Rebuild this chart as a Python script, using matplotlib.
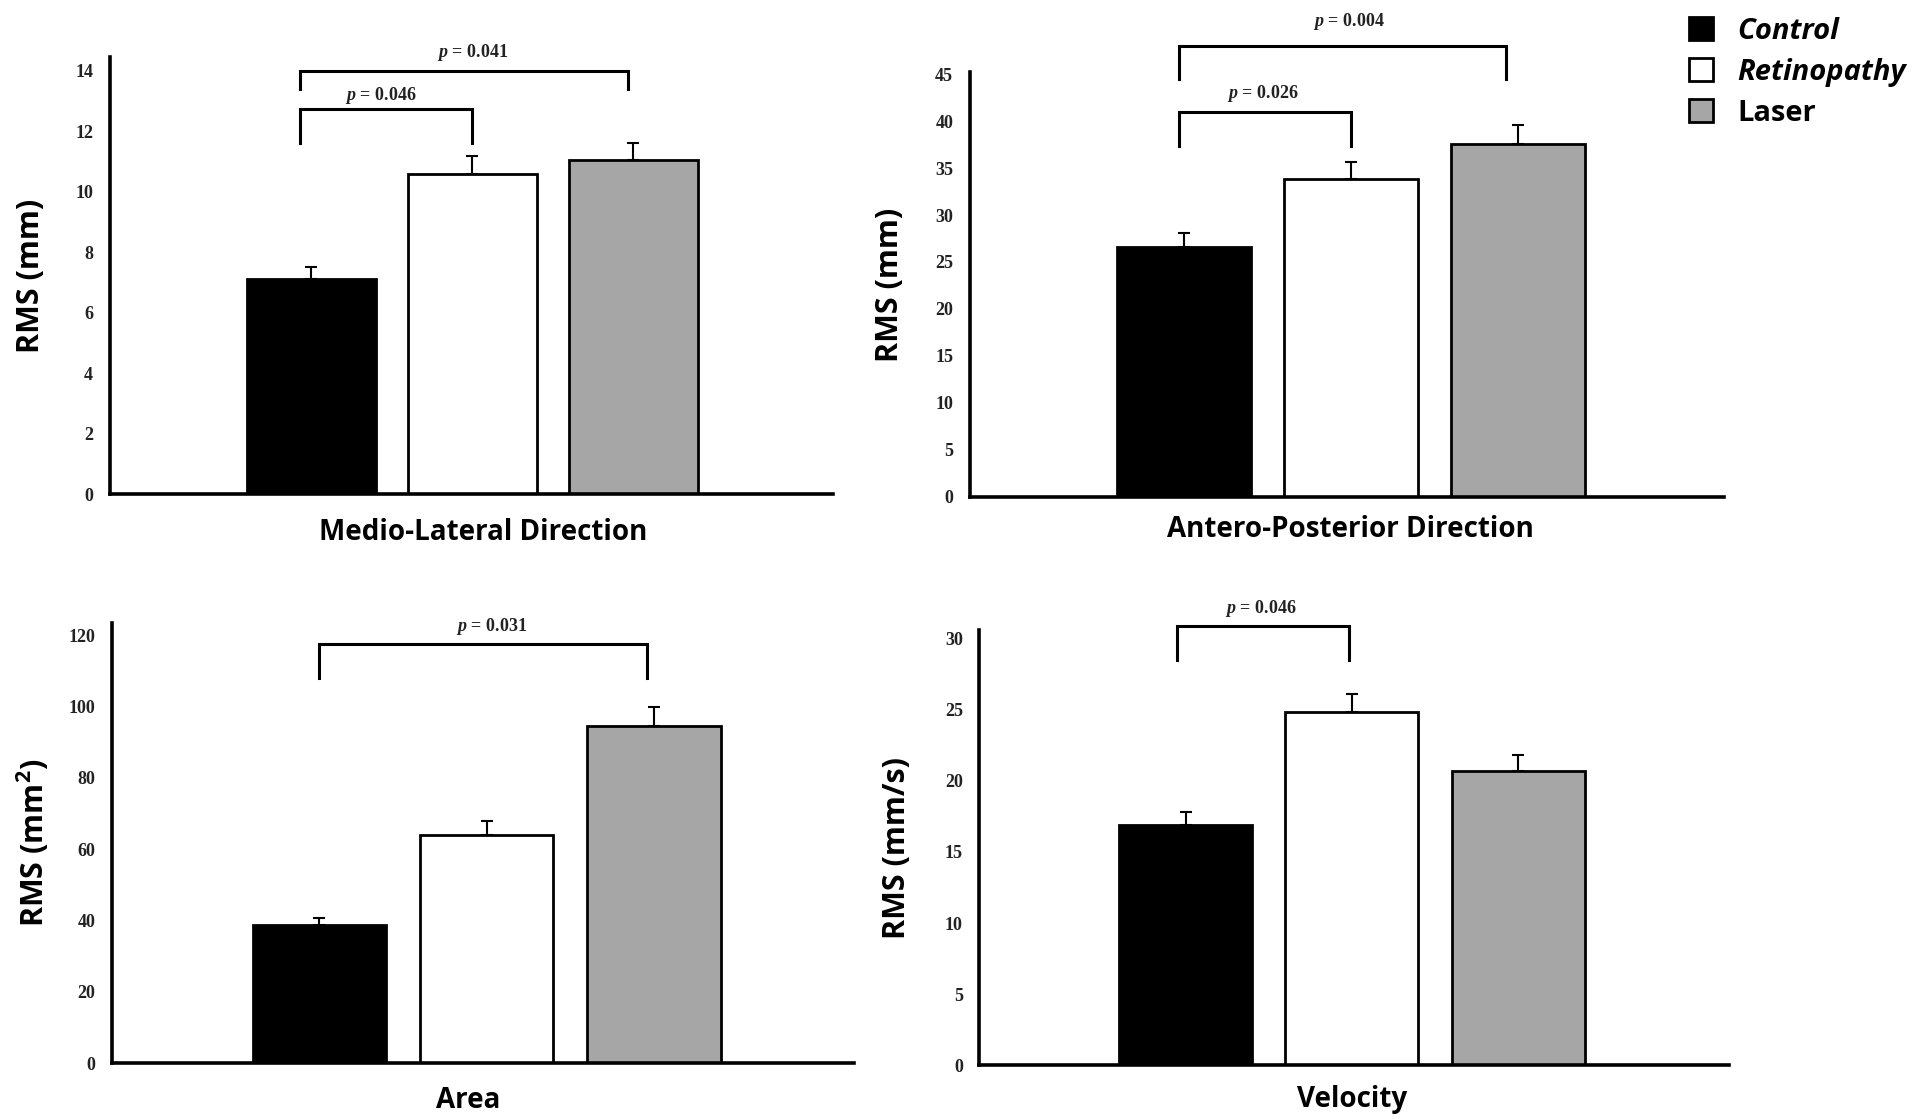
import numpy as np
import matplotlib.pyplot as plt

plt.rcParams['mathtext.fontset'] = 'custom'
plt.rcParams['mathtext.it'] = 'Liberation Serif:italic:bold'
plt.rcParams['mathtext.rm'] = 'Liberation Serif:bold'

# ---- data ----
groups = ["Control", "Retinopathy", "Laser"]
colors = ["black", "white", "#a6a6a6"]

ml_mean = [7.1, 10.6, 11.05]
ml_err = [0.4, 0.6, 0.55]

ap_mean = [26.6, 33.8, 37.6]
ap_err = [1.5, 1.8, 2.0]

area_mean = [38.7, 64.1, 94.6]
area_err = [2.1, 3.8, 5.2]

vel_mean = [16.9, 24.85, 20.7]
vel_err = [0.9, 1.25, 1.1]

# brackets: (from bar, to bar, label)
ml_pairs = [(0, 1, "0.046"), (0, 2, "0.041")]
ap_pairs = [(0, 1, "0.026"), (0, 2, "0.004")]
area_pairs = [(0, 2, "0.031")]
vel_pairs = [(0, 1, "0.046")]

# ---- layout per panel ----
panels = [
    dict(rect=[0.0574, 0.5585, 0.378, 0.3903], mean=ml_mean, err=ml_err, pairs=ml_pairs,
         ytop=14.45, ticks=np.arange(0, 15, 2), xlim=(-1.25, 3.24),
         ylabel="RMS (mm)", xlabel="Medio-Lateral Direction", ylab_x=-0.088, xlab=(0.516, -0.087),
         br=[(-0.07, 1.0, 12.75, 11.6, 0.43, 13.2), (-0.07, 1.97, 14.0, 13.4, 1.0, 14.6)]),
    dict(rect=[0.507, 0.5563, 0.394, 0.379], mean=ap_mean, err=ap_err, pairs=ap_pairs,
         ytop=45.2, ticks=np.arange(0, 46, 5), xlim=(-1.28, 3.23),
         ylabel="RMS (mm)", xlabel="Antero-Posterior Direction", ylab_x=-0.086, xlab=(0.505, -0.078),
         br=[(-0.03, 1.0, 41.0, 37.4, 0.47, 43.0), (-0.03, 1.93, 48.0, 44.5, 0.99, 50.6)]),
    dict(rect=[0.0586, 0.050, 0.388, 0.393], mean=area_mean, err=area_err, pairs=area_pairs,
         ytop=123.4, ticks=np.arange(0, 121, 20), xlim=(-1.24, 3.2),
         ylabel="RMS (mm$\\mathregular{^2}$)", xlabel="Area", ylab_x=-0.082, xlab=(0.480, -0.085),
         br=[(0.0, 1.96, 117.7, 108.0, 1.03, 122.6)]),
    dict(rect=[0.512, 0.048, 0.392, 0.389], mean=vel_mean, err=vel_err, pairs=vel_pairs,
         ytop=30.6, ticks=np.arange(0, 31, 5), xlim=(-1.24, 3.27),
         ylabel="RMS (mm/s)", xlabel="Velocity", ylab_x=-0.09, xlab=(0.497, -0.078),
         br=[(-0.05, 0.98, 30.9, 28.5, 0.45, 32.1)]),
]

fig = plt.figure(figsize=(19.13, 11.19), dpi=100)

legend_bars = None
for k, p in enumerate(panels):
    ax = fig.add_axes(p["rect"])
    x = np.arange(len(groups))
    bars = ax.bar(x, p["mean"], width=0.8, color=colors, edgecolor="black",
                  linewidth=2, zorder=2, label=groups)
    ax.errorbar(x, p["mean"], yerr=[np.zeros(len(x)), p["err"]], fmt="none",
                ecolor="black", elinewidth=1.5, capsize=4, capthick=1.5, zorder=3)
    if k == 1:
        legend_bars = bars

    ax.set_xlim(*p["xlim"])
    ax.set_ylim(0, p["ytop"])
    ax.set_xticks([])
    ax.set_yticks(p["ticks"])
    ax.tick_params(axis="y", length=0, pad=12, labelsize=13, labelcolor="#222222")
    for lab in ax.get_yticklabels():
        lab.set_fontfamily("Liberation Serif")
        lab.set_fontweight("bold")
    for s in ["top", "right"]:
        ax.spines[s].set_visible(False)
    for s in ["left", "bottom"]:
        ax.spines[s].set_linewidth(2.6)
        ax.spines[s].set_zorder(4)

    ax.set_ylabel(p["ylabel"], fontfamily="Open Sans", fontweight="bold", fontsize=22)
    ax.yaxis.set_label_coords(p["ylab_x"], 0.5)
    ax.text(p["xlab"][0], p["xlab"][1], p["xlabel"], transform=ax.transAxes,
            ha="center", va="center", fontfamily="Open Sans", fontweight="bold", fontsize=20)

    # significance brackets
    for (i, j, txt), (dx1, x2, ytop, yleg, tx, ty) in zip(p["pairs"], p["br"]):
        x1 = i + dx1
        ax.plot([x1, x1, x2, x2], [yleg, ytop, ytop, yleg], color="black",
                lw=2.2, clip_on=False, solid_joinstyle="miter")
        ax.text(tx, ty, "$\\mathit{p}$ = " + txt, ha="center", va="center",
                fontfamily="Liberation Serif", fontweight="bold", fontsize=13,
                color="#222222", clip_on=False)

leg = fig.legend(legend_bars, groups, loc="upper left", bbox_to_anchor=(0.8831, 0.985),
                 frameon=False, handlelength=0.8, handleheight=0.8, handletextpad=0.84,
                 borderaxespad=0, borderpad=0, labelspacing=0.41,
                 prop=dict(family="Open Sans", weight="bold", size=21))
for t, style in zip(leg.get_texts(), ["italic", "italic", "normal"]):
    t.set_fontstyle(style)

fig.savefig("out.png", dpi=100)
